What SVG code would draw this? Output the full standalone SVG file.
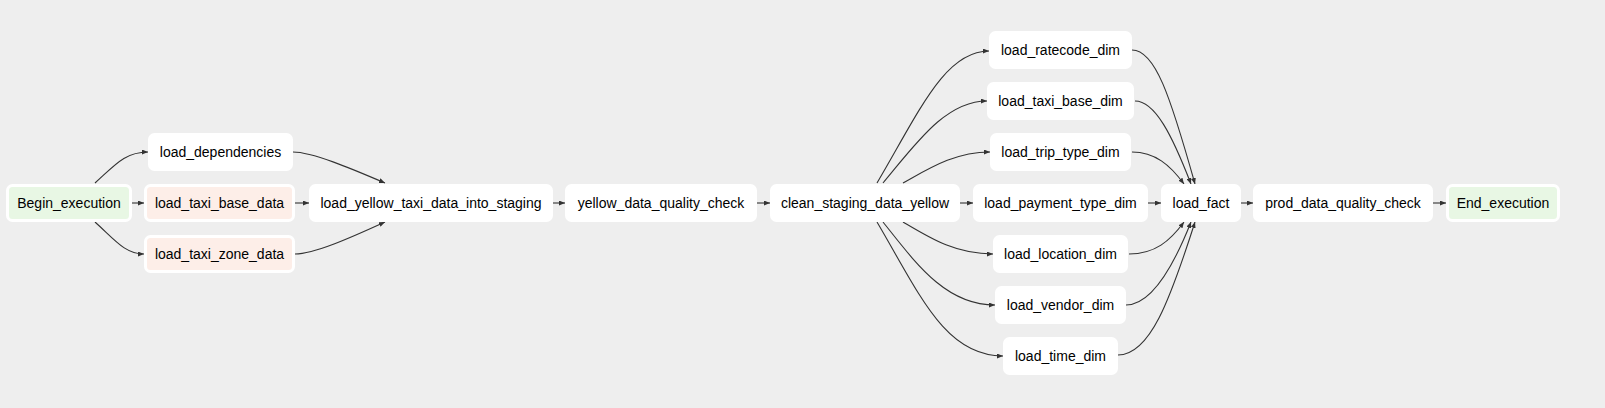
<svg xmlns="http://www.w3.org/2000/svg" width="1605" height="408" viewBox="0 0 1605 408">
<defs>
<style>
.node rect{fill:#ffffff;stroke:#ffffff;stroke-width:3}
.node.dummy rect{fill:#e8f7e4}
.node.custom rect{fill:#fdeee8}
.node text{font-family:"Liberation Sans",Arial,sans-serif;font-size:14px;fill:#000;text-anchor:middle;dominant-baseline:central}
.edges path{fill:none;stroke:#333;stroke-width:1.1;marker-end:url(#arrow)}
</style>
<marker id="arrow" markerUnits="userSpaceOnUse" markerWidth="6" markerHeight="5" viewBox="0 0 6 5" refX="6" refY="2.5" orient="auto">
<path d="M0,0 L6,2.5 L0,5 z" fill="#333"/>
</marker>
</defs>
<rect x="0" y="0" width="1605" height="408" fill="#eeeeee"/>
<g id="edges" class="edges">
<path d="M95,183 C115,165 125,152 148,152"/>
<path d="M132,203 L144,203"/>
<path d="M95,222 C115,240 125,254 144,254"/>
<path d="M293,152 C312,152 350,168 385,183"/>
<path d="M295,203 L309,203"/>
<path d="M295,254 C314,254 350,238 385,222"/>
<path d="M553,203 L565,203"/>
<path d="M757,203 L770,203"/>
<path d="M877,183 C920,110 945,51 989,51"/>
<path d="M883,183 C915,145 945,101 987,101"/>
<path d="M903,183 C930,168 955,152 990,152"/>
<path d="M960,203 L973,203"/>
<path d="M903,222 C930,238 955,254 993,254"/>
<path d="M883,222 C915,262 945,305 995,305"/>
<path d="M877,222 C920,295 945,356 1003,356"/>
<path d="M1132,50 C1155,50 1170,95 1195,184"/>
<path d="M1135,101 C1155,101 1172,135 1191,184"/>
<path d="M1132,152 C1155,152 1170,165 1184,184"/>
<path d="M1148,203 L1161,203"/>
<path d="M1129,254 C1155,254 1170,241 1184,222"/>
<path d="M1126,305 C1150,305 1172,270 1191,222"/>
<path d="M1118,355 C1150,355 1170,300 1195,222"/>
<path d="M1241,203 L1253,203"/>
<path d="M1433,203 L1446,203"/>
</g>
<g id="Begin_execution" class="node dummy"><rect x="7.5" y="185.5" width="123" height="35" rx="5"/><text x="69" y="203">Begin_execution</text></g>
<g id="load_dependencies" class="node"><rect x="149.5" y="134.5" width="142" height="35" rx="5"/><text x="220.5" y="152">load_dependencies</text></g>
<g id="load_taxi_base_data" class="node custom"><rect x="145.5" y="185.5" width="148" height="35" rx="5"/><text x="219.5" y="203">load_taxi_base_data</text></g>
<g id="load_taxi_zone_data" class="node custom"><rect x="145.5" y="236.5" width="148" height="35" rx="5"/><text x="219.5" y="254">load_taxi_zone_data</text></g>
<g id="load_yellow_taxi_data_into_staging" class="node"><rect x="310.5" y="185.5" width="241" height="35" rx="5"/><text x="431" y="203">load_yellow_taxi_data_into_staging</text></g>
<g id="yellow_data_quality_check" class="node"><rect x="566.5" y="185.5" width="189" height="35" rx="5"/><text x="661" y="203">yellow_data_quality_check</text></g>
<g id="clean_staging_data_yellow" class="node"><rect x="771.5" y="185.5" width="187" height="35" rx="5"/><text x="865" y="203">clean_staging_data_yellow</text></g>
<g id="load_ratecode_dim" class="node"><rect x="990.5" y="32.5" width="140" height="35" rx="5"/><text x="1060.5" y="50">load_ratecode_dim</text></g>
<g id="load_taxi_base_dim" class="node"><rect x="988.5" y="83.5" width="144" height="35" rx="5"/><text x="1060.5" y="101">load_taxi_base_dim</text></g>
<g id="load_trip_type_dim" class="node"><rect x="991.5" y="134.5" width="138" height="35" rx="5"/><text x="1060.5" y="152">load_trip_type_dim</text></g>
<g id="load_payment_type_dim" class="node"><rect x="974.5" y="185.5" width="172" height="35" rx="5"/><text x="1060.5" y="203">load_payment_type_dim</text></g>
<g id="load_location_dim" class="node"><rect x="994.5" y="236.5" width="132" height="35" rx="5"/><text x="1060.5" y="254">load_location_dim</text></g>
<g id="load_vendor_dim" class="node"><rect x="996.5" y="287.5" width="128" height="35" rx="5"/><text x="1060.5" y="305">load_vendor_dim</text></g>
<g id="load_time_dim" class="node"><rect x="1004.5" y="338.5" width="112" height="35" rx="5"/><text x="1060.5" y="356">load_time_dim</text></g>
<g id="load_fact" class="node"><rect x="1162.5" y="185.5" width="77" height="35" rx="5"/><text x="1201" y="203">load_fact</text></g>
<g id="prod_data_quality_check" class="node"><rect x="1254.5" y="185.5" width="177" height="35" rx="5"/><text x="1343" y="203">prod_data_quality_check</text></g>
<g id="End_execution" class="node dummy"><rect x="1447.5" y="185.5" width="111" height="35" rx="5"/><text x="1503" y="203">End_execution</text></g>
</svg>
